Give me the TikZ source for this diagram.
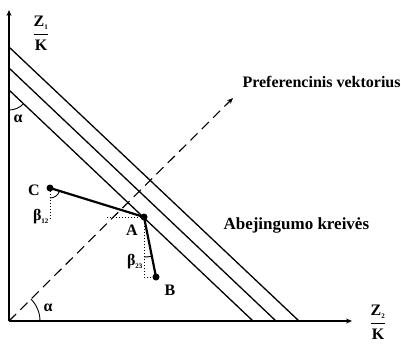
\documentclass[tikz,border=0pt]{standalone}
\usepackage{fontspec}
\setmainfont{Liberation Serif}
\usetikzlibrary{arrows.meta}
\begin{document}
\begin{tikzpicture}[x=1pt,y=1pt,
  axis/.style={line width=1.1pt,-{Stealth[length=6pt,width=5pt]}},
  curve/.style={line width=1.3pt},
  seg/.style={line width=2.2pt},
  guide/.style={line width=1pt,dotted},
  dot/.style={circle,fill=black,inner sep=0pt,minimum size=7pt},
  lab/.style={font=\bfseries\fontsize{16}{16}\selectfont},
  grk/.style={font=\bfseries\fontsize{16}{16}\selectfont},
  txt/.style={font=\bfseries\fontsize{16}{16}\selectfont}]
\useasboundingbox (0,0) rectangle (401,343);
\coordinate (O) at (9,22);
\coordinate (Ytop) at (9,333);
\coordinate (Xend) at (352,22);
\draw[axis] (O) -- (Ytop);
\draw[axis] (O) -- (Xend);
% indifference curves
\coordinate (L1a) at (9,296); \coordinate (L1b) at (299,22);
\coordinate (L2a) at (9,275); \coordinate (L2b) at (276,22);
\coordinate (L3a) at (9,253); \coordinate (L3b) at (253,22);
\draw[curve] (L1a) -- (L1b);
\draw[curve] (L2a) -- (L2b);
\draw[curve] (L3a) -- (L3b);
% preference vector
\coordinate (P) at (233,245);
\draw[line width=1.1pt,dash pattern=on 10pt off 6pt,-{Stealth[length=6pt,width=5pt]}] (O) -- (P);
% points
\node[dot] (C) at (50,155) {};
\node[dot] (A) at (144,126) {};
\node[dot] (B) at (156,66) {};
\coordinate (Cd) at (50,123);
\coordinate (Al) at (107,126);
\coordinate (Ad) at (144,66);
\draw[guide] (C.center) -- (Cd);
\draw[guide] (A.center) -- (Al);
\draw[guide] (A.center) -- (Ad) -- (B.center);
\draw[seg] (C.center) -- (A.center) -- (B.center);
% angle arcs
\draw[line width=0.9pt] (C.center) ++(-90:10) arc[start angle=-90,end angle=-17,radius=10];
\draw[line width=0.9pt] (A.center) ++(-90:40) arc[start angle=-90,end angle=-78.7,radius=40];
\draw[line width=0.9pt] (O) ++(0:31) arc[start angle=0,end angle=45,radius=31];
\draw[line width=0.9pt] (L3a) ++(-90:20) arc[start angle=-90,end angle=-43.4,radius=20];
% labels
\node[lab] (Ct) at (34,153) {C};
\node[lab] (At) at (132,113) {A};
\node[lab] (Bt) at (170,53) {B};
\node[grk] (b12) at (41,126) {β\textsubscript{\fontsize{7}{7}\selectfont 12}};
\node[grk] (b23) at (135,81) {β\textsubscript{\fontsize{7}{7}\selectfont 23}};
\node[grk] (a1) at (48,35) {α};
\node[grk] (a2) at (18,224) {α};
\node[lab,inner sep=1pt] (Z1) at (41,310) {$\displaystyle\frac{\textbf{Z\textsubscript{\fontsize{7}{7}\selectfont 1}}}{\textbf{K}}$};
\node[lab,inner sep=1pt] (Z2) at (378,21) {$\displaystyle\frac{\textbf{Z\textsubscript{\fontsize{7}{7}\selectfont 2}}}{\textbf{K}}$};
\node[txt,anchor=west] (pv) at (239,261) {Preferencinis vektorius};
\node[txt,anchor=west,font=\bfseries\fontsize{17}{17}\selectfont] (ak) at (220,118) {Abejingumo kreivės};
\end{tikzpicture}
\end{document}
